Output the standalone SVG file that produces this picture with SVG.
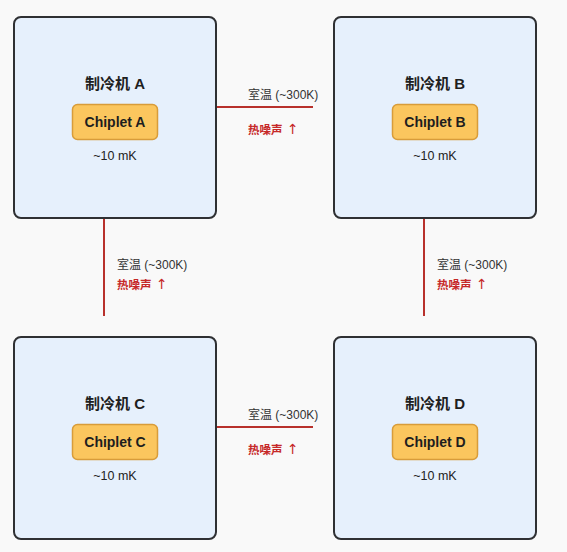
<svg xmlns="http://www.w3.org/2000/svg" width="567" height="552" viewBox="0 0 567 552">
<style>
.box{fill:#e6f0fc;stroke:#2f3033;stroke-width:2}
.chip{fill:#fbc65e;stroke:#d89c3a;stroke-width:1.5}
.title{font-family:"Liberation Sans","Noto Sans CJK SC",sans-serif;font-size:15px;font-weight:bold;fill:#1e1e1e;text-anchor:middle}
.chipt{font-family:"Liberation Sans","Noto Sans CJK SC",sans-serif;font-size:14px;font-weight:bold;fill:#1e1e1e;text-anchor:middle}
.temp{font-family:"Liberation Sans","Noto Sans CJK SC",sans-serif;font-size:12.5px;fill:#222;text-anchor:middle}
.lbl{font-family:"Liberation Sans","Noto Sans CJK SC",sans-serif;font-size:12px;fill:#333}
.noise{font-family:"Liberation Sans","Noto Sans CJK SC",sans-serif;font-size:11.5px;font-weight:bold;fill:#c62828}
.arr{font-family:"DejaVu Sans",sans-serif;font-size:14px;font-weight:normal}
.link{stroke:#b8312c;stroke-width:2;fill:none}
</style>
<rect width="567" height="552" fill="#f9f9f9"/>
<g id="connectors">
<line class="link" x1="216" y1="107" x2="313" y2="107"/>
<line class="link" x1="216" y1="427" x2="313" y2="427"/>
<line class="link" x1="104" y1="218" x2="104" y2="316"/>
<line class="link" x1="424" y1="218" x2="424" y2="316"/>
<text class="lbl" x="248" y="99">室温 (~300K)</text>
<text class="noise" x="248" y="134">热噪声 <tspan class="arr" x="287">↑</tspan></text>
<text class="lbl" x="248" y="419">室温 (~300K)</text>
<text class="noise" x="248" y="454">热噪声 <tspan class="arr" x="287">↑</tspan></text>
<text class="lbl" x="117" y="269">室温 (~300K)</text>
<text class="noise" x="117" y="289">热噪声 <tspan class="arr" x="156">↑</tspan></text>
<text class="lbl" x="437" y="269">室温 (~300K)</text>
<text class="noise" x="437" y="289">热噪声 <tspan class="arr" x="476">↑</tspan></text>
</g>
<g id="nodeA">
<rect class="box" x="14" y="17" width="202" height="201" rx="7"/>
<text class="title" x="115" y="89">制冷机 A</text>
<rect class="chip" x="72.5" y="104.5" width="85" height="35" rx="5"/>
<text class="chipt" x="115" y="127">Chiplet A</text>
<text class="temp" x="115" y="160">~10 mK</text>
</g>
<g id="nodeB">
<rect class="box" x="334" y="17" width="202" height="201" rx="7"/>
<text class="title" x="435" y="89">制冷机 B</text>
<rect class="chip" x="392.5" y="104.5" width="85" height="35" rx="5"/>
<text class="chipt" x="435" y="127">Chiplet B</text>
<text class="temp" x="435" y="160">~10 mK</text>
</g>
<g id="nodeC">
<rect class="box" x="14" y="337" width="202" height="202" rx="7"/>
<text class="title" x="115" y="409">制冷机 C</text>
<rect class="chip" x="72.5" y="424.5" width="85" height="35" rx="5"/>
<text class="chipt" x="115" y="447">Chiplet C</text>
<text class="temp" x="115" y="480">~10 mK</text>
</g>
<g id="nodeD">
<rect class="box" x="334" y="337" width="202" height="202" rx="7"/>
<text class="title" x="435" y="409">制冷机 D</text>
<rect class="chip" x="392.5" y="424.5" width="85" height="35" rx="5"/>
<text class="chipt" x="435" y="447">Chiplet D</text>
<text class="temp" x="435" y="480">~10 mK</text>
</g>
</svg>
